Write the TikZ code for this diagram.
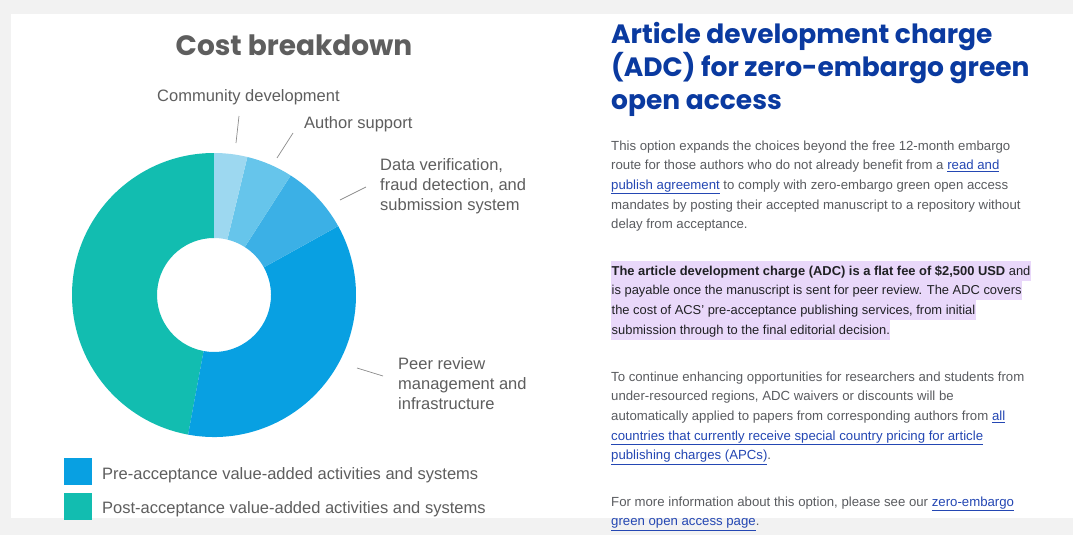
\documentclass[tikz,border=0pt]{standalone}
\usepackage{fontspec}
\setmainfont{Liberation Sans}
\newfontfamily\headfont{Poppins}
\definecolor{barGrey}{HTML}{F2F2F2}
\definecolor{labelGrey}{HTML}{5E5E5E}
\definecolor{leaderGrey}{HTML}{8C8C8C}
\definecolor{bodyGrey}{HTML}{5A5C60}
\definecolor{bodyDark}{HTML}{202124}
\definecolor{linkBlue}{HTML}{2447B3}
\definecolor{titleBlue}{HTML}{0A3AA0}
\definecolor{lavender}{HTML}{E9D8FA}
\definecolor{postTeal}{HTML}{12BDB0}
\definecolor{peerBlue}{HTML}{08A0E2}
\definecolor{dataBlue}{HTML}{3BB0E6}
\definecolor{authBlue}{HTML}{66C5EB}
\definecolor{commBlue}{HTML}{9DD8F0}
\newcommand{\lnk}[1]{\textcolor{linkBlue}{\underline{#1}}}
\begin{document}
\begin{tikzpicture}[x=1pt,y=-1pt,
	lbl/.style={anchor=base west,inner sep=0pt,text=labelGrey,align=left,font=\fontsize{16.5}{20}\selectfont},
	leader/.style={draw=leaderGrey,line width=0.7pt},
	body/.style={anchor=base west,inner sep=0pt,text=bodyGrey,align=left,font=\fontsize{13.2}{19.7}\selectfont},
	hilite/.style={anchor=base west,fill=lavender,inner xsep=0.5pt,inner ysep=0pt,text height=14pt,text depth=5.7pt,text=bodyDark,font=\fontsize{12.9}{19.7}\selectfont}]
	\useasboundingbox (0,0) rectangle (1073,535);
	% page frame
	\fill[barGrey] (0,0) rectangle (1073,535);
	\fill[white] (11,14) rectangle (1073,518);
	% donut chart
	\begin{scope}[shift={(214,295)}]
		\foreach \a/\b/\c in {90/259.5/postTeal,-100.5/29/peerBlue,29/57.3/dataBlue,57.3/76.4/authBlue,76.4/90/commBlue}
			\fill[\c] (\a:142pt) arc[start angle=\a,end angle=\b,radius=142pt] -- (\b:57pt) arc[start angle=\b,end angle=\a,radius=57pt] -- cycle;
	\end{scope}
	\node[anchor=base,inner sep=0pt,text=labelGrey,font=\headfont\bfseries\fontsize{28}{30}\selectfont] (cost) at (294,56) {Cost breakdown};
	% labels (multi-line nodes sit on their last baseline)
	\node[lbl] (comm) at (157,101) {Community development};
	\node[lbl] (auth) at (304,128) {Author support};
	\node[lbl] (data) at (380,210) {Data verification,\\fraud detection, and\\submission system};
	\node[lbl] (peer) at (398,409) {Peer review\\management and\\infrastructure};
	\coordinate (comm1) at (239,116); \coordinate (comm2) at (236,143);
	\coordinate (auth1) at (293,133); \coordinate (auth2) at (277,158);
	\coordinate (data1) at (366,187); \coordinate (data2) at (340,200);
	\coordinate (peer1) at (383,376); \coordinate (peer2) at (357,368);
	\draw[leader] (comm1) -- (comm2);
	\draw[leader] (auth1) -- (auth2);
	\draw[leader] (data1) -- (data2);
	\draw[leader] (peer1) -- (peer2);
	% legend
	\fill[peerBlue] (64,458) rectangle (92,485);
	\fill[postTeal] (64,493) rectangle (92,520);
	\node[lbl] (pre) at (102,479) {Pre-acceptance value-added activities and systems};
	\node[lbl] (post) at (102,513) {Post-acceptance value-added activities and systems};
	% right column
	\node[anchor=base west,inner sep=0pt,text=titleBlue,align=left,font=\headfont\bfseries\fontsize{26.5}{33}\selectfont] (title) at (611,109) {Article development charge\\(ADC) for zero-embargo green\\open access};
	\node[body] (p1) at (611,228.8) {This option expands the choices beyond the free 12-month embargo\\
		route for those authors who do not already benefit from a \lnk{read and}\\
		\lnk{publish agreement} to comply with zero-embargo green open access\\
		mandates by posting their accepted manuscript to a repository without\\
		delay from acceptance.};
	\node[hilite] (hl1) at (611,275) {\textbf{The article development charge (ADC) is a flat fee of \$2,500 USD} and};
	\node[hilite] (hl2) at (611,294.7) {is payable once the manuscript is sent for peer review. The ADC covers};
	\node[hilite] (hl3) at (611,314.4) {the cost of ACS’ pre-acceptance publishing services, from initial};
	\node[hilite] (hl4) at (611,334.1) {submission through to the final editorial decision.};
	\node[body] (p3) at (611,459.8) {To continue enhancing opportunities for researchers and students from\\
		under-resourced regions, ADC waivers or discounts will be\\
		automatically applied to papers from corresponding authors from \lnk{all}\\
		\lnk{countries that currently receive special country pricing for article}\\
		\lnk{publishing charges (APCs)}.};
	\node[body] (p4) at (611,525.7) {For more information about this option, please see our \lnk{zero-embargo}\\
		\lnk{green open access page}.};
\end{tikzpicture}
\end{document}
